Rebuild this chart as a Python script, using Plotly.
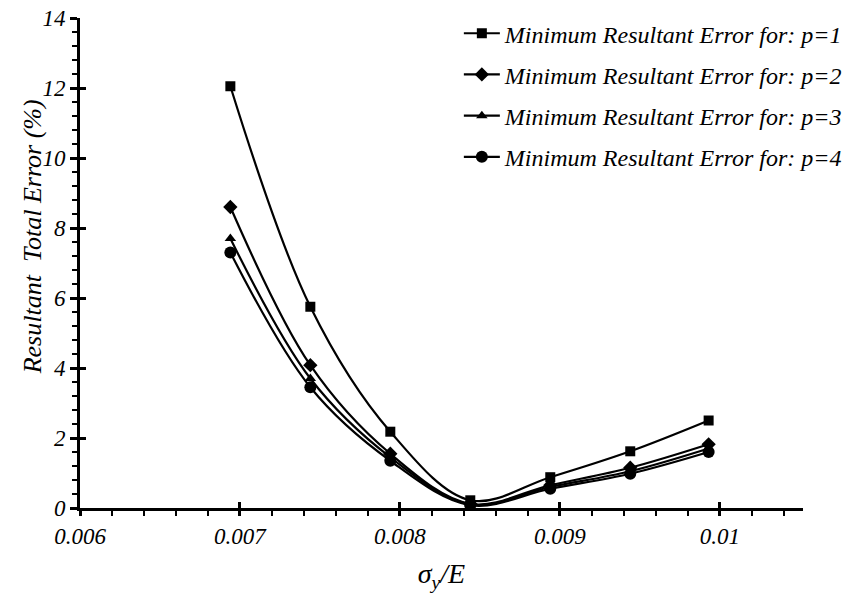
import plotly.graph_objects as go

sigma_ratio = [0.00694, 0.00744, 0.00794, 0.00844, 0.00894, 0.00944, 0.00993]
err_p1 = [12.05, 5.75, 2.18, 0.22, 0.88, 1.62, 2.50]
err_p2 = [8.60, 4.08, 1.55, 0.12, 0.65, 1.15, 1.82]
err_p3 = [7.70, 3.70, 1.45, 0.10, 0.60, 1.05, 1.70]
err_p4 = [7.30, 3.45, 1.35, 0.08, 0.55, 0.98, 1.60]
series_names = ["Minimum Resultant Error for: p=1", "Minimum Resultant Error for: p=2",
                "Minimum Resultant Error for: p=3", "Minimum Resultant Error for: p=4"]
symbols = ["square", "diamond", "triangle-up", "circle"]
sizes = [10, 11, 10, 12]
x_ticks = [0.006, 0.007, 0.008, 0.009, 0.010]
x_ticklabels = ["0.006", "0.007", "0.008", "0.009", "0.01"]
y_ticks = [0, 2, 4, 6, 8, 10, 12, 14]
y_title = "Resultant  Total Error (%)"
x_title = "<i>σ<sub>y</sub>/E</i>"

FONT = "Liberation Serif"
fig = go.Figure()
for i, ys in enumerate([err_p1, err_p2, err_p3, err_p4]):
    fig.add_trace(go.Scatter(
        x=sigma_ratio, y=ys, mode="lines+markers", name=series_names[i],
        legendgroup=str(i),
        line=dict(color="black", width=2.2, shape="spline", smoothing=1.0),
        marker=dict(symbol=symbols[i], size=sizes[i], color="black"),
    ))

xr = [0.006, 0.01052]
yr = [0, 14]
fig.update_layout(
    width=858, height=607,
    margin=dict(l=80, r=55, t=18, b=99, autoexpand=False),
    paper_bgcolor="white", plot_bgcolor="white",
    font=dict(family=FONT, color="black"),
    showlegend=True,
    legend=dict(x=0.524, y=1.014, xanchor="left", yanchor="top",
                font=dict(family=FONT, size=24, style="italic", color="black"),
                tracegroupgap=7, bgcolor="rgba(0,0,0,0)", itemwidth=36),
    xaxis=dict(range=xr, tickvals=x_ticks, ticktext=x_ticklabels,
               showgrid=False, zeroline=False, showline=True, linecolor="black", linewidth=3,
               ticks="outside", ticklen=5, tickwidth=3, tickcolor="black",
               minor=dict(dtick=0.0002, ticks="outside", ticklen=5, tickwidth=2, tickcolor="black"),
               tickfont=dict(family=FONT, size=23, style="italic", color="black"),
               title=dict(text=x_title, font=dict(family=FONT, size=28, color="black"),
                          standoff=16)),
    yaxis=dict(range=yr, tickvals=y_ticks,
               showgrid=False, zeroline=False, showline=True, linecolor="black", linewidth=3,
               ticks="outside", ticklen=7, tickwidth=3, tickcolor="black",
               minor=dict(dtick=0.4, ticks="outside", ticklen=5, tickwidth=2, tickcolor="black"),
               tickfont=dict(family=FONT, size=23, style="italic", color="black")),
    xaxis2=dict(range=xr, overlaying="x", side="bottom", anchor="y", tickvals=x_ticks,
                showticklabels=False, showgrid=False, zeroline=False, showline=False,
                ticks="inside", ticklen=6, tickwidth=3, tickcolor="black"),
    yaxis2=dict(range=yr, overlaying="y", side="left", anchor="x", tickvals=y_ticks,
                showticklabels=False, showgrid=False, zeroline=False, showline=False,
                ticks="inside", ticklen=6, tickwidth=3, tickcolor="black"),
)
fig.add_annotation(text=y_title, textangle=-90, xref="paper", yref="paper",
                   x=-0.066, y=0.553, xanchor="center", yanchor="middle", showarrow=False,
                   font=dict(family=FONT, size=26, style="italic", color="black"))
fig.add_trace(go.Scatter(x=[None], y=[None], xaxis="x2", yaxis="y2", showlegend=False, hoverinfo="skip"))
fig.write_html("out.html")
